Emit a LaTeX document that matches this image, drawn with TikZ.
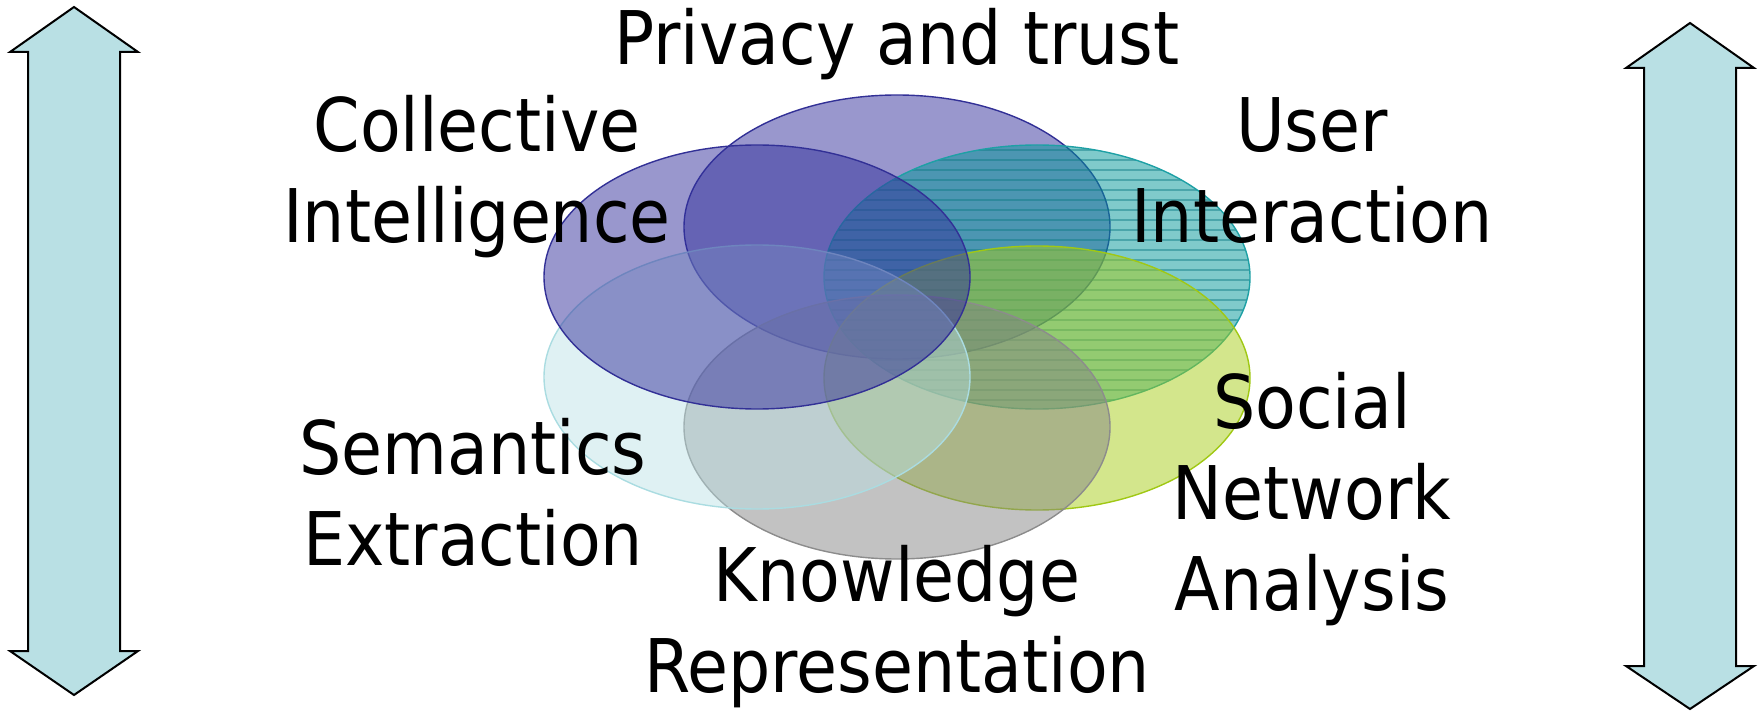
\documentclass[tikz,border=0pt]{standalone}
\usepackage{fontspec}
\setmainfont{DejaVu Sans}[FakeStretch=0.9]
\definecolor{arrowfill}{RGB}{185,224,228}
\definecolor{privfill}{RGB}{51,48,156}
\definecolor{privline}{RGB}{50,48,150}
\definecolor{userfill}{RGB}{0,150,152}
\definecolor{userline}{RGB}{30,160,165}
\definecolor{userstripe}{RGB}{10,120,130}
\definecolor{socfill}{RGB}{167,205,25}
\definecolor{socline}{RGB}{160,200,20}
\definecolor{knowfill}{RGB}{133,133,133}
\definecolor{knowline}{RGB}{140,140,140}
\definecolor{semfill}{RGB}{185,224,228}
\definecolor{semline}{RGB}{170,220,225}
\begin{document}
\begin{tikzpicture}[x=1pt,y=-1pt,
  vennset/.style={fill opacity=0.5, line width=1.4pt},
  lbl/.style={font=\fontsize{74}{91}\selectfont, align=center, text=black, inner sep=0pt},
  blockarrow/.style={fill=arrowfill, draw=black, line width=2pt, line join=miter},
  stripe/.style={draw=userstripe, line width=1.2pt, opacity=0.45}]
\useasboundingbox (0,0) rectangle (1764,711);

% block arrows
\draw[blockarrow] (74,7) -- (138,52) -- (120,52) -- (120,651) -- (138,651) -- (74,695)
  -- (10,651) -- (28,651) -- (28,52) -- (10,52) -- cycle;
\draw[blockarrow] (1690,23) -- (1754,68) -- (1736,68) -- (1736,666) -- (1754,666) -- (1690,709)
  -- (1626,666) -- (1644,666) -- (1644,68) -- (1626,68) -- cycle;

% ellipses (order: privacy, user, social, knowledge, semantics, collective)
\fill[vennset, fill=privfill] (897,227) ellipse [x radius=213pt, y radius=132pt];
\draw[line width=1.4pt, draw=privline] (897,227) ellipse [x radius=213pt, y radius=132pt];

\fill[vennset, fill=userfill] (1037,277) ellipse [x radius=213pt, y radius=132pt];
\begin{scope}
  \clip (1037,277) ellipse [x radius=213pt, y radius=132pt];
  \foreach \yy in {150,160,...,410} \draw[stripe] (820,\yy) -- (1255,\yy);
\end{scope}
\draw[line width=1.4pt, draw=userline] (1037,277) ellipse [x radius=213pt, y radius=132pt];

\fill[vennset, fill=socfill] (1037,378) ellipse [x radius=213pt, y radius=132pt];
\draw[line width=1.4pt, draw=socline] (1037,378) ellipse [x radius=213pt, y radius=132pt];

\fill[vennset, fill=knowfill] (897,427) ellipse [x radius=213pt, y radius=132pt];
\draw[line width=1.4pt, draw=knowline] (897,427) ellipse [x radius=213pt, y radius=132pt];

\fill[fill opacity=0.45, fill=semfill] (757,377) ellipse [x radius=213pt, y radius=132pt];
\draw[line width=1.4pt, draw=semline] (757,377) ellipse [x radius=213pt, y radius=132pt];

\fill[vennset, fill=privfill] (757,277) ellipse [x radius=213pt, y radius=132pt];
\draw[line width=1.4pt, draw=privline] (757,277) ellipse [x radius=213pt, y radius=132pt];

% labels (base anchor = baseline of the last line)
\node[lbl, anchor=base] (privacy) at (897,65) {Privacy and trust};
\node[lbl, anchor=base] (collective) at (477,243) {Collective\\Intelligence};
\node[lbl, anchor=base] (user) at (1312,243) {User\\Interaction};
\node[lbl, anchor=base] (social) at (1312,610) {Social\\Network\\Analysis};
\node[lbl, anchor=base] (semantics) at (473,565) {Semantics\\Extraction};
\node[lbl, anchor=base] (knowledge) at (897,692) {Knowledge\\Representation};
\end{tikzpicture}
\end{document}
